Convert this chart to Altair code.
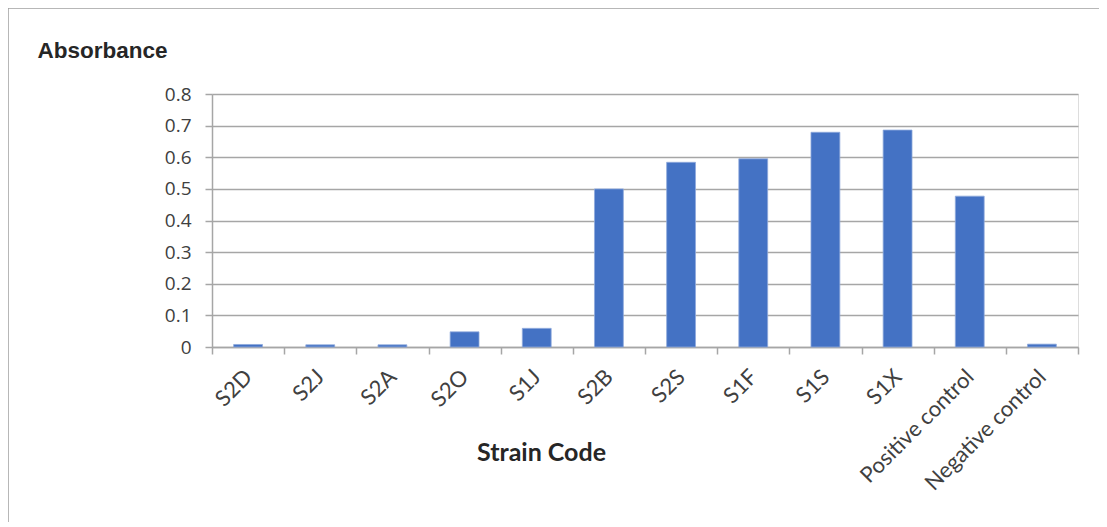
import altair as alt
import pandas as pd

categories = ["S2D", "S2J", "S2A", "S2O", "S1J", "S2B", "S2S", "S1F", "S1S", "S1X",
              "Positive control", "Negative control"]
values = [0.008, 0.007, 0.007, 0.048, 0.059, 0.500, 0.584, 0.595, 0.679, 0.686, 0.477, 0.009]
y_ticks = [0, 0.1, 0.2, 0.3, 0.4, 0.5, 0.6, 0.7, 0.8]

df = pd.DataFrame({"strain": categories, "absorbance": values})

GRID = "#a6a6a6"
TEXT = "#404040"

bars = alt.Chart(df).mark_bar(
    color="#4472C4", stroke="#8faadc", strokeWidth=0.8,
    width=alt.RelativeBandSize(0.4),
).encode(
    x=alt.X(
        "strain:N",
        sort=categories,
        scale=alt.Scale(paddingInner=0, paddingOuter=0),
        axis=alt.Axis(
            title="Strain Code",
            titleFont="Lato",
            titleFontSize=25,
            titleFontWeight="bold",
            titleColor="#262626",
            titleX=329,
            titleY=113,
            titleAlign="center",
            titleBaseline="alphabetic",
            labelAngle=-45,
            labelAlign="right",
            labelBaseline="middle",
            labelFont="Lato",
            labelFontSize=22,
            labelColor=TEXT,
            labelPadding=19,
            tickBand="extent",
            tickSize=7,
            tickColor=GRID,
            tickWidth=1.5,
            domainColor=GRID,
            domainWidth=1.5,
            grid=False,
        ),
    ),
    y=alt.Y(
        "absorbance:Q",
        scale=alt.Scale(domain=[0, 0.8], nice=False),
        axis=alt.Axis(
            values=y_ticks,
            format=".1~f",
            title="Absorbance",
            titleAngle=0,
            titleFont="Liberation Sans",
            titleFontSize=22.5,
            titleFontWeight="bold",
            titleColor="#262626",
            titleX=-175,
            titleY=-44,
            titleAlign="left",
            titleBaseline="middle",
            labelFont="Open Sans",
            labelFontSize=19,
            labelColor=TEXT,
            labelPadding=14,
            tickSize=7,
            tickColor=GRID,
            tickWidth=1.5,
            domainColor=GRID,
            domainWidth=1.5,
            grid=True,
            gridColor=GRID,
            gridWidth=1.5,
        ),
    ),
)

border = alt.Chart(pd.DataFrame({"k": [0]})).mark_rect(
    fill=None, stroke="#a0a0a0", strokeWidth=1.5
).encode(
    x=alt.value(-204),
    y=alt.value(-86),
    x2=alt.value(1000),
    y2=alt.value(600),
)

chart = alt.layer(border, bars).properties(
    width=866,
    height=253,
    autosize=alt.AutoSizeParams(type="none"),
    padding={"left": 204, "top": 86, "right": 21, "bottom": 175},
).configure_view(stroke=None).configure(background="white")

chart.save("out.html", embed_options={"renderer": "svg", "actions": False})
